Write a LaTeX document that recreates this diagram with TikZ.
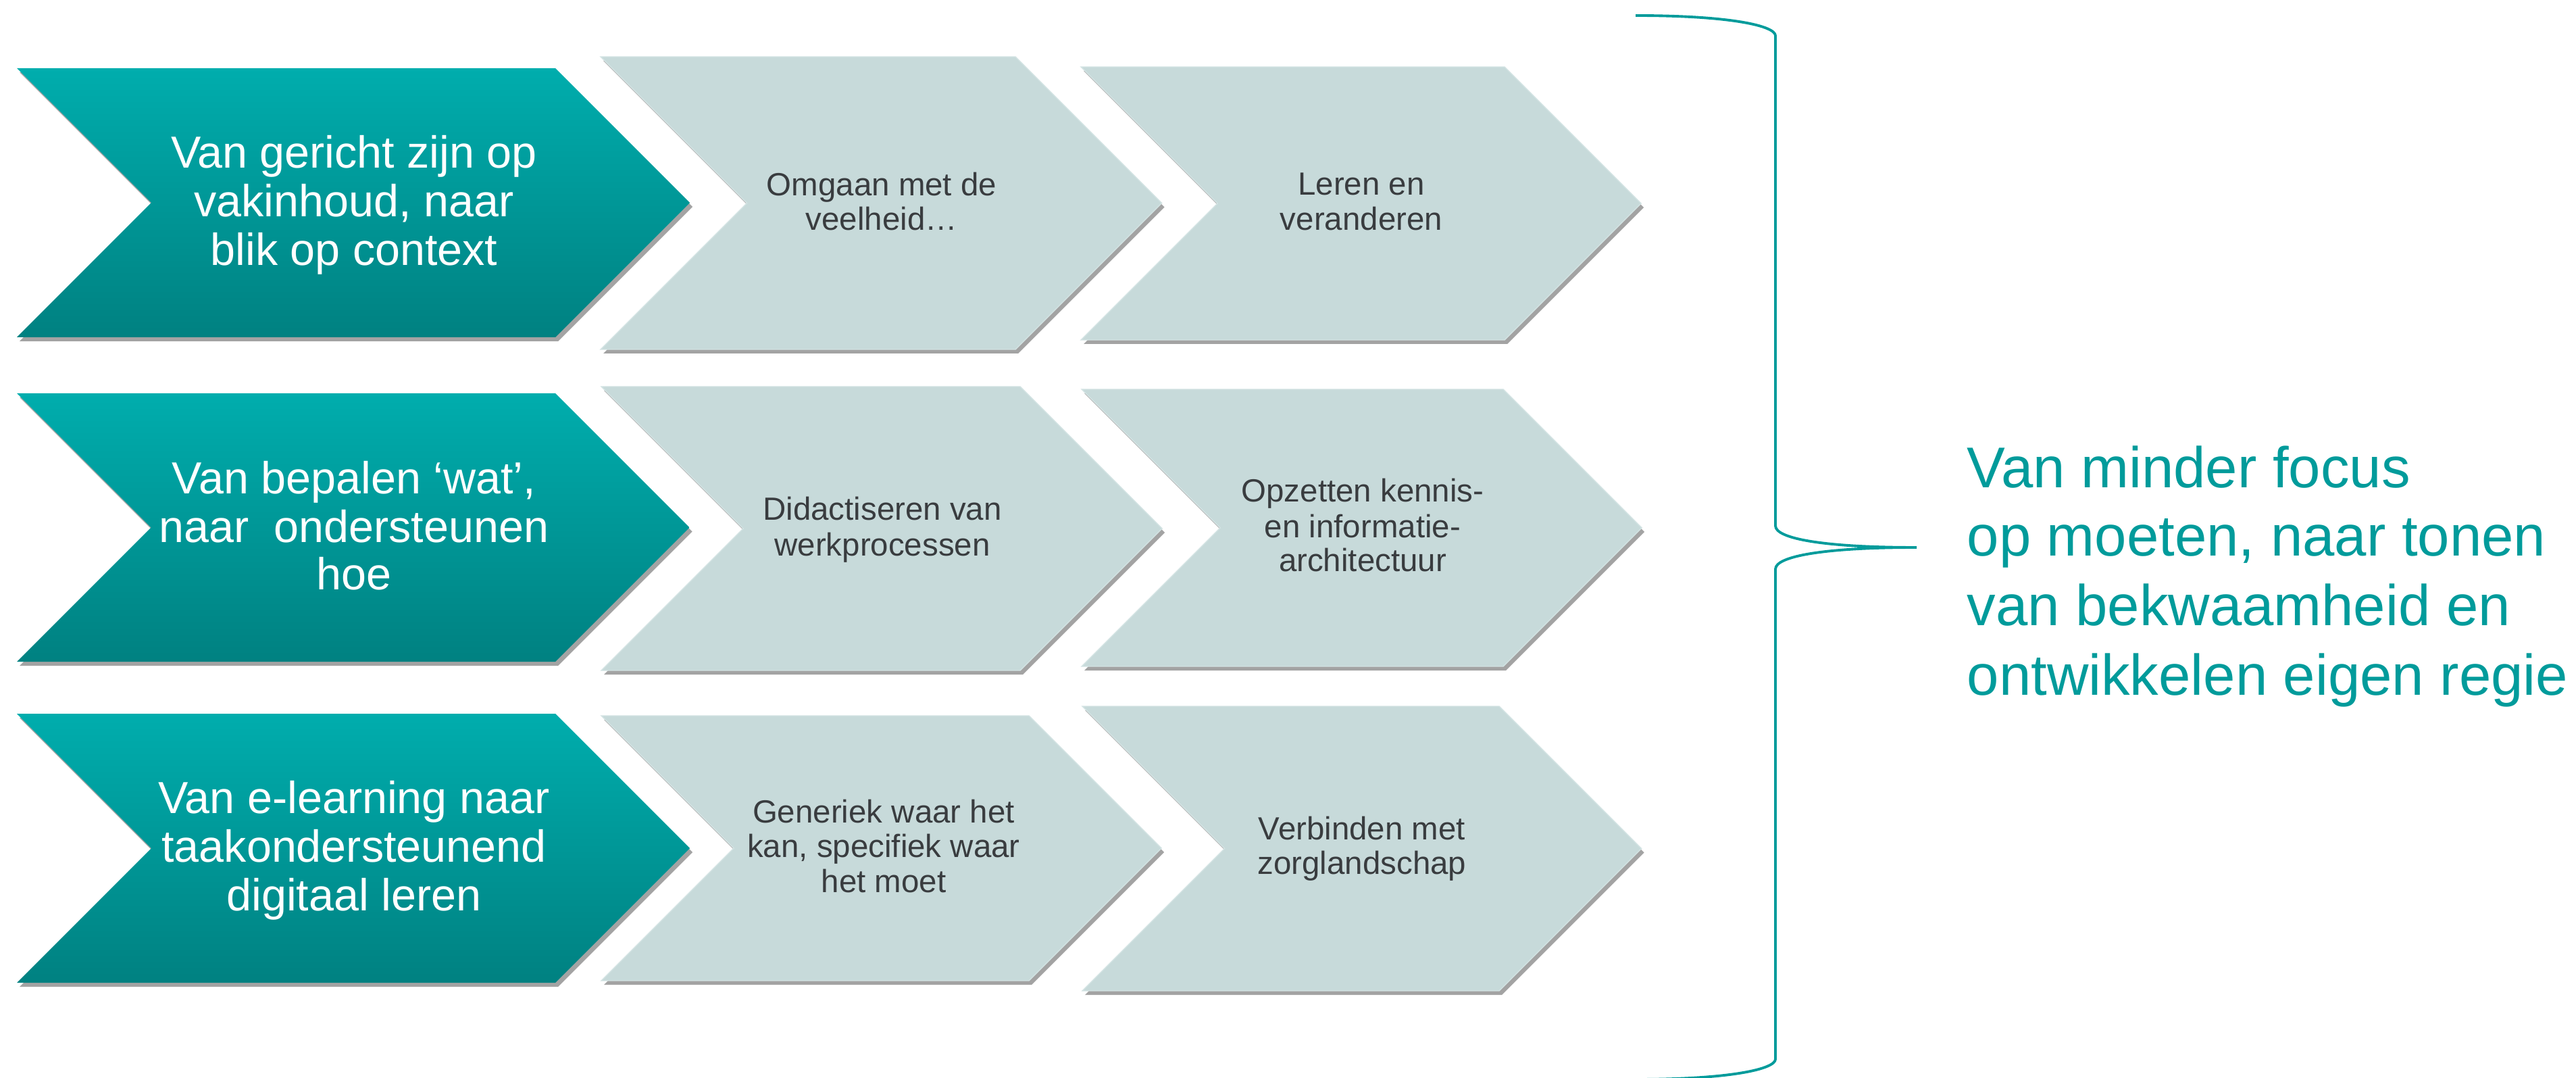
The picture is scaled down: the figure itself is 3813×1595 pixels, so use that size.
\documentclass[tikz,border=0pt]{standalone}
\usepackage{fontspec}
\setmainfont{Liberation Sans}
\definecolor{tealtop}{HTML}{00ADAD}
\definecolor{tealbot}{HTML}{008181}
\definecolor{chevgray}{HTML}{C7DADA}
\definecolor{chevedge}{HTML}{D3E3E3}
\definecolor{shadowgray}{HTML}{A3A3A3}
\definecolor{txtgray}{HTML}{393C3F}
\definecolor{accent}{HTML}{009B9B}
\tikzset{
  tealchev/.style={top color=tealtop, bottom color=tealbot, draw=none},
  graychev/.style={fill=chevgray, draw=chevedge, line width=0.4pt},
  shadowchev/.style={fill=shadowgray, draw=none, shift={(4,6)}},
  tealtxt/.style={anchor=base, inner sep=0pt, text=white, font=\fontsize{18.9pt}{22pt}\selectfont},
  graytxt/.style={anchor=base, inner sep=0pt, text=txtgray, font=\fontsize{13.5pt}{16pt}\selectfont},
  righttxt/.style={anchor=base west, inner sep=0pt, text=accent, font=\fontsize{24.2pt}{29pt}\selectfont},
  bracestyle/.style={draw=accent, line width=1.1pt}
}
% #1 style, #2 left x, #3 top-right x, #4 top y, #5 bottom y
\newcommand\mychev[5]{%
  \pgfmathsetmacro\chd{(#5-#4)/2}%
  \pgfmathsetmacro\chm{(#4+#5)/2}%
  \path[#1] (#2,#4) -- (#3,#4) -- ({#3+\chd},\chm) -- (#3,#5) -- (#2,#5) -- ({#2+\chd},\chm) -- cycle;%
}
\newcommand\mychevsh[5]{%
  \mychev{shadowchev}{#2}{#3}{#4}{#5}%
  \mychev{#1}{#2}{#3}{#4}{#5}%
}
\begin{document}
\begin{tikzpicture}[x=0.01cm, y=-0.01cm]
\useasboundingbox (0,0) rectangle (3813,1595);
\fill[white] (0,0) rectangle (3813,1595);

% ---- row 1 ----
\mychevsh{tealchev}{25}{822}{101}{499}
\mychevsh{graychev}{889}{1503}{84}{517}
\mychevsh{graychev}{1600}{2227}{99}{503}
% ---- row 2 ----
\mychevsh{tealchev}{25}{822}{582}{979}
\mychevsh{graychev}{890}{1510}{572}{992}
\mychevsh{graychev}{1601}{2225}{576}{986}
% ---- row 3 ----
\mychevsh{tealchev}{25}{822}{1056}{1454}
\mychevsh{graychev}{890}{1523}{1059}{1451}
\mychevsh{graychev}{1602}{2219}{1045}{1466}

% ---- texts row 1 ----
\node[tealtxt] (t1a) at (524,249) {Van gericht zijn op};
\node[tealtxt] (t1b) at (524,321) {vakinhoud, naar};
\node[tealtxt] (t1c) at (524,393) {blik op context};
\node[graytxt] (g12a) at (1305,290) {Omgaan met de};
\node[graytxt] (g12b) at (1305,341) {veelheid…};
\node[graytxt] (g13a) at (2015,289) {Leren en};
\node[graytxt] (g13b) at (2015,341) {veranderen};

% ---- texts row 2 ----
\node[tealtxt] (t2a) at (524,731) {Van bepalen ‘wat’,};
\node[tealtxt] (t2b) at (524,802) {naar\ \ ondersteunen};
\node[tealtxt] (t2c) at (524,873) {hoe};
\node[graytxt] (g22a) at (1306,770) {Didactiseren van};
\node[graytxt] (g22b) at (1306,822) {werkprocessen};
\node[graytxt] (g23a) at (2017,743) {Opzetten kennis-};
\node[graytxt] (g23b) at (2017,795) {en informatie-};
\node[graytxt] (g23c) at (2017,846) {architectuur};

% ---- texts row 3 ----
\node[tealtxt] (t3a) at (524,1203) {Van e-learning naar};
\node[tealtxt] (t3b) at (524,1275) {taakondersteunend};
\node[tealtxt] (t3c) at (524,1347) {digitaal leren};
\node[graytxt] (g32a) at (1308,1217) {Generiek waar het};
\node[graytxt] (g32b) at (1308,1268) {kan, specifiek waar};
\node[graytxt] (g32c) at (1308,1320) {het moet};
\node[graytxt] (g33a) at (2016,1242) {Verbinden met};
\node[graytxt] (g33b) at (2016,1293) {zorglandschap};

% ---- brace ----
\coordinate (btop) at (2421,23);
\coordinate (bup) at (2628,53);
\coordinate (bmid1) at (2628,778);
\coordinate (btip) at (2837,810);
\coordinate (bmid2) at (2628,842);
\coordinate (blow) at (2628,1567);
\coordinate (bbot) at (2421,1597);
\draw[bracestyle] (btop) .. controls (2560,23) and (2628,38) .. (bup)
  -- (bmid1) .. controls (2628,797) and (2700,810) .. (btip)
  .. controls (2700,810) and (2628,823) .. (bmid2)
  -- (blow) .. controls (2628,1582) and (2560,1597) .. (bbot);

% ---- right text ----
\node[righttxt] (r1) at (2911,722) {Van minder focus};
\node[righttxt] (r2) at (2911,823) {op moeten, naar tonen};
\node[righttxt] (r3) at (2911,925) {van bekwaamheid en};
\node[righttxt] (r4) at (2911,1028) {ontwikkelen eigen regie};
\end{tikzpicture}
\end{document}
